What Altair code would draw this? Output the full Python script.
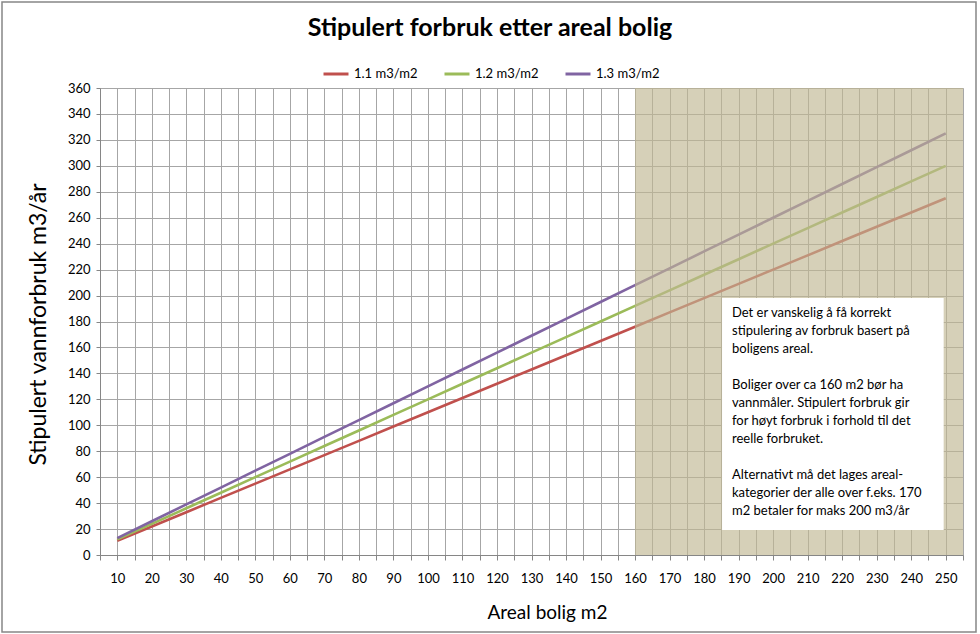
import altair as alt
import pandas as pd

areal = [10, 20, 30, 40, 50, 60, 70, 80, 90, 100, 110, 120, 130, 140, 150,
         160, 170, 180, 190, 200, 210, 220, 230, 240, 250]
s11 = [11, 22, 33, 44, 55, 66, 77, 88, 99, 110, 121, 132, 143, 154, 165,
       176, 187, 198, 209, 220, 231, 242, 253, 264, 275]
s12 = [12, 24, 36, 48, 60, 72, 84, 96, 108, 120, 132, 144, 156, 168, 180,
       192, 204, 216, 228, 240, 252, 264, 276, 288, 300]
s13 = [13, 26, 39, 52, 65, 78, 91, 104, 117, 130, 143, 156, 169, 182, 195,
       208, 221, 234, 247, 260, 273, 286, 299, 312, 325]
series_names = ["1.1 m3/m2", "1.2 m3/m2", "1.3 m3/m2"]
series_colors = ["#c0504d", "#9bbb59", "#8064a2"]

chart_title = "Stipulert forbruk etter areal bolig"
note_paragraphs = [
    ["Det er vanskelig å få korrekt",
     "stipulering av forbruk basert på",
     "boligens areal."],
    ["Boliger over ca 160 m2 bør ha",
     "vannmåler. Stipulert forbruk gir",
     "for høyt forbruk i forhold til det",
     "reelle forbruket."],
    ["Alternativt må det lages areal-",
     "kategorier der alle over f.eks. 170",
     "m2 betaler for maks 200 m3/år"],
]

FONT = "Lato"

rows = []
for name, vals in zip(series_names, [s11, s12, s13]):
    for a, v in zip(areal, vals):
        rows.append({"areal": a, "verdi": v, "serie": name})
df = pd.DataFrame(rows)

x_grid = list(range(5, 256, 5))
y_vals = list(range(0, 361, 20))

xscale = alt.Scale(domain=[5, 255], nice=False, zero=False)
yscale = alt.Scale(domain=[0, 360], nice=False)

x_axis = alt.Axis(
    values=x_grid,
    labelExpr="datum.value % 10 == 0 ? datum.label : ''",
    grid=True, gridColor="#a6a6a6", gridWidth=1,
    tickColor="#868686", tickSize=5, domainColor="#868686",
    labelFontSize=13, labelColor="#000000", labelFont=FONT, labelPadding=12,
    title="Areal bolig m2", titleFont=FONT, titleFontSize=19,
    titleFontWeight="normal", titleColor="#000000",
    titleX=447, titleY=57, titleBaseline="middle", titleAlign="center",
    labelFlush=False, labelOverlap=False,
)
y_axis = alt.Axis(
    values=y_vals, grid=True, gridColor="#a6a6a6", gridWidth=1,
    tickColor="#868686", tickSize=4, domainColor="#868686",
    labelFontSize=13, labelColor="#000000", labelFont=FONT, labelPadding=6,
    title="Stipulert vannforbruk m3/år", titleFont=FONT, titleFontSize=23,
    titleFontWeight="normal", titleColor="#000000",
    titleX=-62, titleY=236, titleAngle=-90, titleBaseline="middle",
    titleAlign="center", labelFlush=False, labelOverlap=False,
)

lines = alt.Chart(df).mark_line(strokeWidth=2.6).encode(
    x=alt.X("areal:Q", scale=xscale, axis=x_axis),
    y=alt.Y("verdi:Q", scale=yscale, axis=y_axis),
    color=alt.Color(
        "serie:N",
        scale=alt.Scale(domain=series_names, range=series_colors),
        legend=alt.Legend(
            title=None, orient="none", direction="horizontal",
            legendX=222, legendY=-28,
            symbolType="stroke", symbolSize=625, symbolStrokeWidth=3,
            labelFont=FONT, labelFontSize=13, labelColor="#000000",
            columnPadding=20, labelOffset=4,
        ),
    ),
)

shade_df = pd.DataFrame([{"x1": 160, "x2": 255, "y1": 0, "y2": 360}])
shade = alt.Chart(shade_df).mark_rect(color="#c0b792", opacity=0.65).encode(
    x=alt.X("x1:Q", scale=xscale, axis=x_axis),
    x2="x2:Q",
    y=alt.Y("y1:Q", scale=yscale, axis=y_axis),
    y2="y2:Q",
)

box_df = pd.DataFrame([{"x1": 185.2, "x2": 249.4, "y1": 19.3, "y2": 198.1}])
box = alt.Chart(box_df).mark_rect(color="#ffffff", opacity=1).encode(
    x=alt.X("x1:Q", scale=xscale, axis=x_axis),
    x2="x2:Q",
    y=alt.Y("y1:Q", scale=yscale, axis=y_axis),
    y2="y2:Q",
)

note_rows = []
start = 0
for par in note_paragraphs:
    note_rows.append({"l": start, "txt": "\n".join(par)})
    start += len(par) + 1
note_df = pd.DataFrame(note_rows)
note = alt.Chart(note_df).transform_calculate(
    ypix="219 + datum.l * 18"
).mark_text(
    align="left", baseline="top", lineBreak="\n", lineHeight=18,
    font=FONT, fontSize=13, color="#000000",
).encode(
    x=alt.value(632),
    y=alt.Y("ypix:Q", scale=None, axis=None),
    text="txt:N",
)

title_df = pd.DataFrame([{"t": chart_title}])
title = alt.Chart(title_df).mark_text(
    align="center", baseline="middle", font=FONT, fontSize=25,
    fontWeight="bold", color="#000000",
).encode(
    x=alt.value(390), y=alt.value(-60), text="t:N"
)

border = alt.Chart(pd.DataFrame([{"k": 1}])).mark_rect(
    fill="transparent", stroke="#868686", strokeWidth=1.5
).encode(
    x=alt.value(-98), x2=alt.value(876), y=alt.value(-86), y2=alt.value(544)
)

chart = alt.layer(lines, shade, box, note, title, border).properties(
    width=863, height=467,
    autosize=alt.AutoSizeParams(type="none"),
    padding={"left": 100, "top": 88, "right": 17, "bottom": 79},
).configure_view(stroke="transparent").configure(background="#ffffff")

chart.save("out.html", embed_options={"renderer": "svg", "actions": False})
